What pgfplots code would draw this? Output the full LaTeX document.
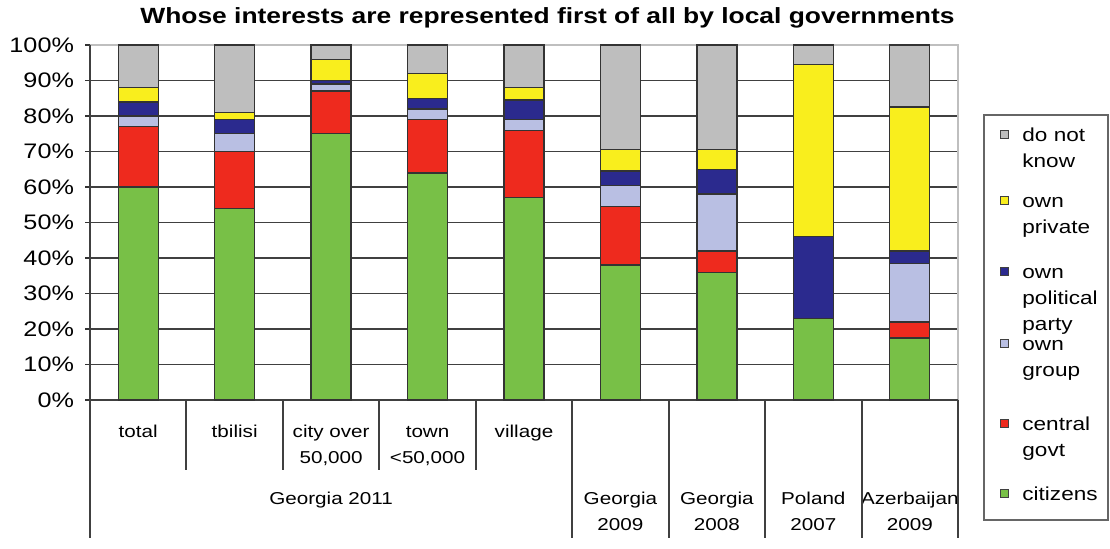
\documentclass[border=0pt]{standalone}
\usepackage{fontspec}
\setmainfont{Liberation Sans}[FakeStretch=1.2]
\usepackage{pgfplots}
\pgfplotsset{compat=1.18}
\usepackage{pgfplotstable}

\definecolor{cgreen}{HTML}{78C047}
\definecolor{cred}{HTML}{EE2A1E}
\definecolor{cgroup}{HTML}{B9BFE3}
\definecolor{cparty}{HTML}{2B2A8E}
\definecolor{cyellow}{HTML}{F9EE1D}
\definecolor{cgray}{HTML}{BEBEBE}

\pgfplotstableread{
x citizens central group party private dnk
0 60   17   3    4    4    12
1 54   16   5    4    2    19
2 75   12   2    1    6    4
3 64   15   3    3    7    8
4 57   19   3    5.5  3.5  12
5 38   16.5 6    4    6    29.5
6 36   6    16   7    5.5  29.5
7 23   0    0    23   48.5 5.5
8 17.5 4.5  16.5 3.5  40.5 17.5
}\datatable

\newcommand\lA{\rule{0pt}{18.5pt}}
\newcommand\lB{\rule{0pt}{52pt}}
\newcommand\legfont{\fontsize{9.4}{13}\selectfont}

\begin{document}
\begin{tikzpicture}
\begin{axis}[
  name=ax, at={(0,0)}, anchor=south west,
  scale only axis, width=434pt, height=177.5pt,
  ybar stacked, bar width=20pt,
  xmin=-0.5, xmax=8.5, ymin=0, ymax=100,
  clip=false,
  axis line style={draw=black!25, line width=0.8pt},
  ymajorgrids, grid style={black!75, line width=0.9pt},
  ytick={0,10,...,90},
  yticklabels={0\%,10\%,20\%,30\%,40\%,50\%,60\%,70\%,80\%,90\%},
  extra y ticks={100}, extra y tick labels={100\%},
  extra y tick style={grid=none},
  ytick align=outside, ytick pos=left, major tick length=2.5pt,
  ytick style={black!80, line width=0.8pt},
  yticklabel style={font=\fontsize{10.5}{12}\selectfont, xshift=-2pt},
  xtick={0,...,8}, xtick style={draw=none},
  xticklabels={{\lA total},{\lA tbilisi},{\lA city over\\50,000},{\lA town\\<50,000},{\lA village},
    {\lB Georgia\\2009},{\lB Georgia\\2008},{\lB Poland\\2007},{\lB Azerbaijan\\2009}},
  xticklabel style={anchor=north, inner sep=0pt, yshift=0pt, align=center, font=\fontsize{8.6}{13}\selectfont},
  every axis plot/.append style={draw=black!80, line width=0.7pt},
]
\addplot[fill=cgreen] table[x=x, y=citizens] {\datatable};
\addplot[fill=cred] table[x=x, y=central] {\datatable};
\addplot[fill=cgroup] table[x=x, y=group] {\datatable};
\addplot[fill=cparty] table[x=x, y=party] {\datatable};
\addplot[fill=cyellow] table[x=x, y=private] {\datatable};
\addplot[fill=cgray] table[x=x, y=dnk] {\datatable};

\draw[black!75, line width=1pt] (axis cs:-0.5,100) -- (axis cs:-0.5,0) -- ([yshift=-69pt]axis cs:-0.5,0);
\draw[black!75, line width=1pt] (axis cs:-0.5,0) -- (axis cs:8.5,0);
\pgfplotsinvokeforeach{0.5,1.5,2.5,3.5}{\draw[black!75, line width=1pt] (axis cs:#1,0) -- ([yshift=-35pt]axis cs:#1,0);}
\pgfplotsinvokeforeach{4.5,5.5,6.5,7.5,8.5}{\draw[black!75, line width=1pt] (axis cs:#1,0) -- ([yshift=-69pt]axis cs:#1,0);}
\node[anchor=base, font=\fontsize{8.6}{13}\selectfont] at ([yshift=-52pt]axis cs:2,0) {Georgia 2011};
\node[anchor=base, font=\bfseries\fontsize{11}{13}\selectfont] at ([xshift=11.75pt,yshift=11pt]rel axis cs:0.5,1) {Whose interests are represented first of all by local governments};
\end{axis}
% legend
\begin{scope}[shift={(ax.north east)}, every node/.style={anchor=base west, inner sep=0pt, font=\legfont}]
\draw[black!60, line width=0.6pt, fill=white] (13pt,-35pt) rectangle (75pt,-237.5pt);
\draw[fill=cgray, draw=black!75, line width=0.5pt] (21pt,-46.5pt) rectangle (25pt,-42.5pt);
\node at (32pt,-48pt) {do not}; \node at (32pt,-61pt) {know};
\draw[fill=cyellow, draw=black!75, line width=0.5pt] (21pt,-79.5pt) rectangle (25pt,-75.5pt);
\node at (32pt,-81pt) {own}; \node at (32pt,-94pt) {private};
\draw[fill=cparty, draw=black!75, line width=0.5pt] (21pt,-115pt) rectangle (25pt,-111pt);
\node at (32pt,-116.5pt) {own}; \node at (32pt,-129.5pt) {political}; \node at (32pt,-142.5pt) {party};
\draw[fill=cgroup, draw=black!75, line width=0.5pt] (21pt,-151pt) rectangle (25pt,-147pt);
\node at (32pt,-152.5pt) {own}; \node at (32pt,-165.5pt) {group};
\draw[fill=cred, draw=black!75, line width=0.5pt] (21pt,-191pt) rectangle (25pt,-187pt);
\node at (32pt,-192.5pt) {central}; \node at (32pt,-205.5pt) {govt};
\draw[fill=cgreen, draw=black!75, line width=0.5pt] (21pt,-226pt) rectangle (25pt,-222pt);
\node at (32pt,-227.5pt) {citizens};
\end{scope}
\pgfresetboundingbox
\path[use as bounding box] ([xshift=-45pt,yshift=-74pt]ax.south west) rectangle ([xshift=76pt,yshift=22.5pt]ax.north east);
\end{tikzpicture}
\end{document}
